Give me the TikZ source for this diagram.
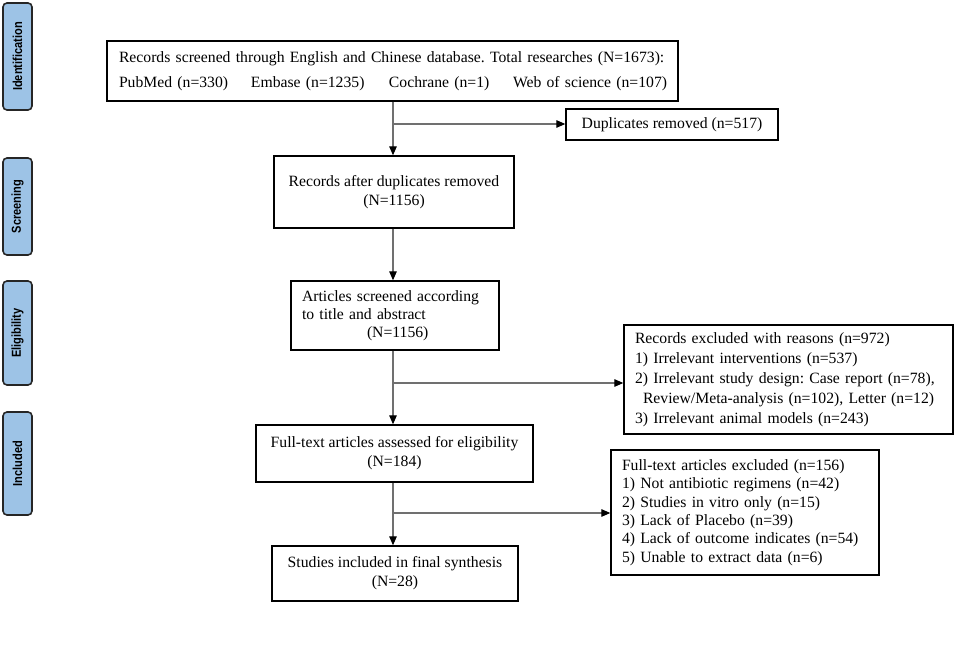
\documentclass[tikz,border=0pt]{standalone}
\usepackage{fontspec}
\setmainfont{Liberation Serif}
\newfontfamily\labelfont[FakeStretch=0.85]{Liberation Sans}
\usetikzlibrary{arrows.meta}
\definecolor{lblue}{HTML}{9DC3E6}
\definecolor{conn}{HTML}{707070}
\frenchspacing
\hbadness=10000 \hfuzz=50pt
\begin{document}
\begin{tikzpicture}[x=1pt,y=-1pt,
  box/.style={draw=black, line width=1.4pt, inner ysep=0pt, fill=white, font=\fontsize{15.7}{19}\selectfont},
  phase/.style={draw=black!85, line width=1.6pt, fill=lblue, rounded corners=4pt, rotate=90,
    minimum height=29pt, inner sep=0pt, font=\labelfont\bfseries\fontsize{13}{15}\selectfont},
  arr/.style={draw=conn, line width=1.3pt, -{Triangle[length=9pt,width=7.5pt,color=black]}}]
\useasboundingbox (0,0) rectangle (957,660);

% phase labels
\node[phase, minimum width=107pt] (pid) at (17.5,56.5) {Identification};
\node[phase, minimum width=97pt] (psc) at (17.5,206.5) {Screening};
\node[phase, minimum width=104pt] (pel) at (17.5,333) {Eligibility};
\node[phase, minimum width=103pt] (pin) at (17.5,463.5) {Included};

% boxes
\node[box, minimum width=571pt, minimum height=60pt, text width=547pt, inner xsep=12pt, align=left] (top) at (392.5,71)
  {\hbox{Records screened through English and Chinese database. Total researches (N=1673):}\\[6pt]
   \hbox{\makebox[132pt][l]{PubMed (n=330)}\makebox[138pt][l]{Embase (n=1235)}\makebox[124pt][l]{Cochrane (n=1)}Web of science (n=107)}};

\node[box, minimum width=212pt, minimum height=31pt, align=center] (dup) at (672,124.5)
  {Duplicates removed (n=517)};

\node[box, minimum width=240pt, minimum height=72pt, align=center] (rafter) at (394,192)
  {Records after duplicates removed\\(N=1156)};

\node[box, minimum height=69pt, text width=186pt, inner xsep=11pt, align=left,
  font=\fontsize{15.7}{18}\selectfont] (art) at (395,315.5)
  {Articles screened according\\to title and abstract\\\hspace*{65pt}(N=1156)};

\node[box, minimum height=109pt, text width=307pt, inner xsep=11pt, align=left,
  font=\fontsize{15.7}{20}\selectfont] (rexc) at (788.5,379.5)
  {Records excluded with reasons (n=972)\\
   1) Irrelevant interventions (n=537)\\
   2) Irrelevant study design: Case report (n=78),\\
   \hspace*{8pt}Review/Meta-analysis (n=102), Letter (n=12)\\
   3) Irrelevant animal models (n=243)};

\node[box, minimum width=277pt, minimum height=57pt, align=center] (full) at (394.5,453.5)
  {Full-text articles assessed for eligibility\\(N=184)};

\node[box, minimum height=125pt, text width=246pt, inner xsep=11pt, align=left,
  font=\fontsize{15.7}{18.3}\selectfont] (fexc) at (745,512.5)
  {Full-text articles excluded (n=156)\\
   1) Not antibiotic regimens (n=42)\\
   2) Studies in vitro only (n=15)\\
   3) Lack of Placebo (n=39)\\
   4) Lack of outcome indicates (n=54)\\
   5) Unable to extract data (n=6)};

\node[box, minimum width=246pt, minimum height=55pt, align=center] (stud) at (395,573.5)
  {Studies included in final synthesis\\(N=28)};

% connectors
\coordinate (b1) at (393,124);
\coordinate (b2) at (393,383);
\coordinate (b3) at (393,513);

\draw[arr] (top.south -| b1) -- (rafter.north -| b1);
\draw[arr] (b1) -- (b1 -| dup.west);
\draw[arr] (rafter.south -| b1) -- (art.north -| b1);
\draw[arr] (art.south -| b2) -- (full.north -| b2);
\draw[arr] (b2) -- (b2 -| rexc.west);
\draw[arr] (full.south -| b3) -- (stud.north -| b3);
\draw[arr] (b3) -- (b3 -| fexc.west);
\end{tikzpicture}
\end{document}
